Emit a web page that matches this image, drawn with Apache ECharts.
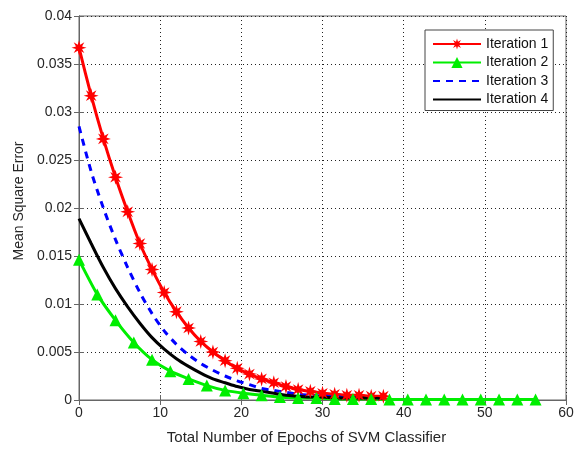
<!DOCTYPE html>
<html>
<head>
<meta charset="utf-8">
<script src="https://cdn.jsdelivr.net/npm/echarts@6/dist/echarts.min.js"></script>
<style>
  html, body { margin: 0; padding: 0; background: #fff; }
  #chart { width: 577px; height: 450px; }
</style>
</head>
<body>
<div id="chart"></div>
<script>
// epochs (x) and mean square error (y) for each iteration
var epochs1 = [0, 1.5, 3, 4.5, 6, 7.5, 9, 10.5, 12, 13.5, 15, 16.5, 18, 19.5, 21, 22.5, 24, 25.5, 27, 28.5, 30, 31.5, 33, 34.5, 36, 37.5];
var mse1 = [0.0367, 0.0317, 0.0272, 0.0232, 0.0196, 0.0163, 0.0136, 0.0112, 0.0092, 0.0075, 0.0061, 0.0050, 0.0041, 0.0033, 0.0027, 0.0022, 0.0018, 0.0014, 0.0011, 0.0009, 0.0007, 0.0006, 0.0005, 0.0005, 0.0004, 0.0004];

var epochs2 = [0, 2.25, 4.5, 6.75, 9, 11.25, 13.5, 15.75, 18, 20.25, 22.5, 24.75, 27, 29.25, 31.5, 33.75, 36, 38.25, 40.5, 42.75, 45, 47.25, 49.5, 51.75, 54, 56.25];
var mse2 = [0.0146, 0.0110, 0.0083, 0.0060, 0.0042, 0.0030, 0.0022, 0.0015, 0.0010, 0.0007, 0.0005, 0.0003, 0.0002, 0.0002, 0.0001, 0.0001, 0.0001, 0.00005, 0.00005, 0.00005, 0.00005, 0.00005, 0.00005, 0.00005, 0.00005, 0.00005];

var epochs3 = [0, 1.5, 3, 4.5, 6, 7.5, 9, 10.5, 12, 13.5, 15, 16.5, 18, 19.5, 21, 22.5, 24, 25.5, 27, 28.5, 30, 31.5, 33, 34.5, 36, 37.5];
var mse3 = [0.0285, 0.0238, 0.0200, 0.0167, 0.0138, 0.0112, 0.0090, 0.0072, 0.0058, 0.0047, 0.0038, 0.0031, 0.0025, 0.0020, 0.0016, 0.0012, 0.0010, 0.0008, 0.0006, 0.0005, 0.0004, 0.0004, 0.0003, 0.0003, 0.0002, 0.0002];

var epochs4 = [0, 1.5, 3, 4.5, 6, 7.5, 9, 10.5, 12, 13.5, 15, 16.5, 18, 19.5, 21, 22.5, 24, 25.5, 27, 28.5, 30, 31.5, 33, 34.5, 36, 37.5];
var mse4 = [0.0189, 0.0163, 0.0138, 0.0116, 0.0097, 0.0080, 0.0065, 0.0053, 0.0043, 0.0035, 0.0028, 0.0022, 0.0018, 0.0014, 0.0011, 0.0009, 0.0007, 0.0005, 0.0004, 0.0003, 0.0003, 0.0002, 0.0002, 0.0002, 0.0002, 0.0002];

var names = ['Iteration 1', 'Iteration 2', 'Iteration 3', 'Iteration 4'];
var xTicks = [0, 10, 20, 30, 40, 50, 60];
var yTicks = [0, 0.005, 0.01, 0.015, 0.02, 0.025, 0.03, 0.035, 0.04];

function pairs(xs, ys) {
  return xs.map(function (x, i) { return [x, ys[i]]; });
}

var starPath = 'path://M50,0 L58.4,29.8 L85.4,14.6 L70.2,41.6 L100,50 L70.2,58.4 L85.4,85.4 L58.4,70.2 L50,100 L41.6,70.2 L14.6,85.4 L29.8,58.4 L0,50 L29.8,41.6 L14.6,14.6 L41.6,29.8 Z';
var font = 'Liberation Sans, Arial, sans-serif';
var txt = '#262626';

var chart = echarts.init(document.getElementById('chart'));

var gridLine = { show: true, lineStyle: { color: '#222', type: [1, 3], width: 1 } };

var option = {
  animation: false,
  backgroundColor: '#fff',
  grid: { left: 79, right: 11, top: 16, bottom: 50, show: true, borderColor: '#666', borderWidth: 1 },
  legend: {
    left: 425, top: 30,
    orient: 'vertical',
    data: [
      { name: names[0] },
      { name: names[1] },
      { name: names[2], itemStyle: { opacity: 0 } },
      { name: names[3], itemStyle: { opacity: 0 } }
    ],
    itemWidth: 48, itemHeight: 14, itemGap: 4.5,
    padding: [7, 5, 4, 7],
    borderColor: '#444', borderWidth: 1,
    backgroundColor: '#fff',
    textStyle: { fontFamily: font, fontSize: 14, color: '#111' }
  },
  xAxis: [{
    type: 'value', min: 0, max: 60, interval: 10,
    name: 'Total Number of Epochs of SVM Classifier',
    nameLocation: 'middle', nameGap: 30,
    nameTextStyle: { fontFamily: font, fontSize: 15, color: txt, padding: [0, 32, 0, 0] },
    axisLine: { show: true, lineStyle: { color: '#666' } },
    axisTick: { show: true, inside: true, length: 5, lineStyle: { color: '#666' } },
    axisLabel: { fontFamily: font, fontSize: 14, color: txt, margin: 6,
      formatter: function (v) { return xTicks.indexOf(v) >= 0 ? String(v) : ''; } },
    splitLine: gridLine
  }, {
    type: 'value', min: 0, max: 60, interval: 10, position: 'top',
    axisLine: { show: true, lineStyle: { color: '#666' } },
    axisTick: { show: true, inside: true, length: 5, lineStyle: { color: '#666' } },
    axisLabel: { show: false }, splitLine: { show: false }
  }],
  yAxis: [{
    type: 'value', min: 0, max: 0.04, interval: 0.005,
    name: 'Mean Square Error',
    nameLocation: 'middle', nameGap: 46,
    nameTextStyle: { fontFamily: font, fontSize: 14, color: txt, padding: [0, 0, 0, 14] },
    axisLine: { show: true, lineStyle: { color: '#666' } },
    axisTick: { show: true, inside: true, length: 5, lineStyle: { color: '#666' } },
    axisLabel: { fontFamily: font, fontSize: 14, color: txt, margin: 7,
      formatter: function (v) {
        for (var i = 0; i < yTicks.length; i++) {
          if (Math.abs(yTicks[i] - v) < 1e-9) return String(yTicks[i]);
        }
        return '';
      } },
    splitLine: gridLine
  }, {
    type: 'value', min: 0, max: 0.04, interval: 0.005, position: 'right',
    axisLine: { show: true, lineStyle: { color: '#666' } },
    axisTick: { show: true, inside: true, length: 5, lineStyle: { color: '#666' } },
    axisLabel: { show: false }, splitLine: { show: false }
  }],
  series: [
    {
      name: names[0], type: 'line', data: pairs(epochs1, mse1),
      symbol: starPath, symbolSize: 15, showAllSymbol: true, smooth: 0.2,
      lineStyle: { color: '#ff0000', width: 3 },
      itemStyle: { color: '#ff0000' }
    },
    {
      name: names[1], type: 'line', data: pairs(epochs2, mse2),
      symbol: 'triangle', symbolSize: 12, showAllSymbol: true, smooth: 0.2,
      lineStyle: { color: '#00ee00', width: 3 },
      itemStyle: { color: '#00ee00' }
    },
    {
      name: names[2], type: 'line', data: pairs(epochs3, mse3),
      symbol: 'none', smooth: 0.3,
      lineStyle: { color: '#0000ff', width: 3, type: [7, 6] },
      itemStyle: { color: '#0000ff' }
    },
    {
      name: names[3], type: 'line', data: pairs(epochs4, mse4),
      symbol: 'none', smooth: 0.3,
      lineStyle: { color: '#000000', width: 3 },
      itemStyle: { color: '#000000' }
    }
  ]
};

chart.setOption(option);
</script>
</body>
</html>
